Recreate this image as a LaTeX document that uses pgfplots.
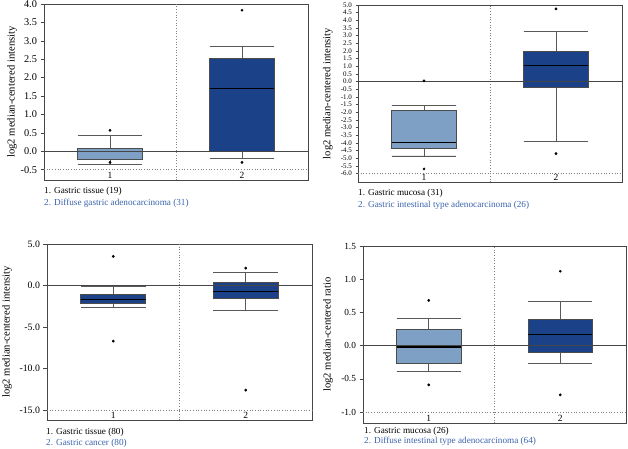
\documentclass[border=0pt]{standalone}
\usepackage{pgfplots}
\pgfplotsset{compat=1.18}
\usepgfplotslibrary{statistics}
\usepackage{fontspec}
\setmainfont{Liberation Serif}

\definecolor{lblue}{RGB}{127,160,197}
\definecolor{dblue}{RGB}{27,65,137}
\definecolor{txtblue}{RGB}{58,98,172}
\definecolor{frame}{RGB}{70,70,70}

\pgfplotsset{
  panel/.style={
    scale only axis,
    anchor=south west,
    xmin=0.5, xmax=2.5,
    xtick=\empty,
    axis line style={frame, line width=0.8pt},
    ytick pos=left,
    tick align=outside,
    major tick length=3.5pt,
    tick style={frame, line width=0.6pt},
    y tick label style={/pgf/number format/.cd, fixed, fixed zerofill, precision=1, assume math mode=true},
    boxplot/draw direction=y,
    boxplot/every median/.style={line width=1.1pt, black},
    boxplot/every whisker/.style={black!65, line width=0.8pt},
    boxplot/every box/.style={draw=black!70, line width=0.7pt},
    clip=false,
  },
  outl/.style={mark=*, mark size=1.2pt, mark options={black, fill=black, solid}},
  sep/.style={black!50, dotted, line width=0.7pt},
}

\begin{document}
\begin{tikzpicture}[x=1pt,y=1pt]
\useasboundingbox (0,0) rectangle (628,448);

% ---------- top left
\begin{axis}[panel, at={(44pt,268pt)}, width=264pt, height=176pt,
  ymin=-0.78, ymax=4.0, ytick={-0.5,0,...,4.0},
  tick label style={font=\fontsize{10.3}{11}\selectfont},
  ylabel={log2 median-centered intensity},
  ylabel style={font=\fontsize{10.6}{11}\selectfont, at={(axis description cs:-0.121,0.5)}, anchor=center}]
  \addplot[sep] coordinates {(1.5,-0.78) (1.5,4.0)};
  \addplot[sep] coordinates {(0.5,-0.5) (2.5,-0.5)};
  \addplot[boxplot prepared={median=0.0, upper quartile=0.08, lower quartile=-0.22,
    upper whisker=0.43, lower whisker=-0.35, draw position=1, box extend=0.49, whisker extend=0.49},
    fill=lblue, draw=black!70, outl] coordinates {(0,0.57) (0,-0.3)};
  \addplot[boxplot prepared={median=1.7, upper quartile=2.52, lower quartile=0.0,
    upper whisker=2.85, lower whisker=-0.2, draw position=2, box extend=0.49, whisker extend=0.49},
    fill=dblue, draw=black!70, outl] coordinates {(0,3.83) (0,-0.3)};
  \addplot[frame, line width=0.8pt] coordinates {(0.5,0) (2.5,0)};
  \node[anchor=south, font=\fontsize{9.5}{10}\selectfont, inner sep=1pt] at (axis cs:1,-0.78) {1};
  \node[anchor=south, font=\fontsize{9.5}{10}\selectfont, inner sep=1pt] at (axis cs:2,-0.78) {2};
\end{axis}
\node[anchor=west, inner sep=0pt, font=\fontsize{9.2}{10}\selectfont] at (44,257) {1. Gastric tissue (19)};
\node[anchor=west, inner sep=0pt, font=\fontsize{9.2}{10}\selectfont, text=txtblue] at (44,245) {2. Diffuse gastric adenocarcinoma (31)};

% ---------- top right
\begin{axis}[panel, at={(358pt,266pt)}, width=264pt, height=177pt,
  ymin=-6.55, ymax=5.0, ytick={-6,-5.5,...,5.01},
  tick label style={font=\fontsize{7}{7}\selectfont},
  major tick length=2.5pt,
  ylabel={log2 median-centered intensity},
  ylabel style={font=\fontsize{10.6}{11}\selectfont, at={(axis description cs:-0.114,0.5)}, anchor=center}]
  \addplot[sep] coordinates {(1.5,-6.55) (1.5,5.0)};
  \addplot[sep] coordinates {(0.5,-6) (2.5,-6)};
  \addplot[boxplot prepared={median=-4.0, upper quartile=-1.9, lower quartile=-4.35,
    upper whisker=-1.55, lower whisker=-4.85, draw position=1, box extend=0.49, whisker extend=0.49},
    fill=lblue, draw=black!70, outl] coordinates {(0,0.05) (0,-5.7)};
  \addplot[boxplot prepared={median=1.05, upper quartile=1.95, lower quartile=-0.35,
    upper whisker=3.3, lower whisker=-3.9, draw position=2, box extend=0.49, whisker extend=0.49},
    fill=dblue, draw=black!70, outl] coordinates {(0,4.75) (0,-4.7)};
  \addplot[frame, line width=0.8pt] coordinates {(0.5,0) (2.5,0)};
  \node[anchor=south, font=\fontsize{9.5}{10}\selectfont, inner sep=1pt] at (axis cs:1,-6.55) {1};
  \node[anchor=south, font=\fontsize{9.5}{10}\selectfont, inner sep=1pt] at (axis cs:2,-6.55) {2};
\end{axis}
\node[anchor=west, inner sep=0pt, font=\fontsize{9.2}{10}\selectfont] at (358,255) {1. Gastric mucosa (31)};
\node[anchor=west, inner sep=0pt, font=\fontsize{9.2}{10}\selectfont, text=txtblue] at (358,243) {2. Gastric intestinal type adenocarcinoma (26)};

% ---------- bottom left
\begin{axis}[panel, at={(47pt,28pt)}, width=265pt, height=176pt,
  ymin=-16.2, ymax=5.0, ytick={-15,-10,...,5},
  tick label style={font=\fontsize{9.8}{10}\selectfont},
  ylabel={log2 median-centered intensity},
  ylabel style={font=\fontsize{10.6}{11}\selectfont, at={(axis description cs:-0.151,0.5)}, anchor=center}]
  \addplot[sep] coordinates {(1.5,-16.2) (1.5,5.0)};
  \addplot[sep] coordinates {(0.5,-15) (2.5,-15)};
  \addplot[boxplot prepared={median=-1.7, upper quartile=-1.1, lower quartile=-2.2,
    upper whisker=-0.15, lower whisker=-2.6, draw position=1, box extend=0.49, whisker extend=0.49},
    fill=dblue, draw=black!70, outl] coordinates {(0,3.5) (0,-6.7)};
  \addplot[boxplot prepared={median=-0.7, upper quartile=0.4, lower quartile=-1.5,
    upper whisker=1.6, lower whisker=-3.0, draw position=2, box extend=0.49, whisker extend=0.49},
    fill=dblue, draw=black!70, outl] coordinates {(0,2.1) (0,-12.6)};
  \addplot[frame, line width=0.8pt] coordinates {(0.5,0) (2.5,0)};
  \node[anchor=south, font=\fontsize{9.5}{10}\selectfont, inner sep=1pt] at (axis cs:1,-16.2) {1};
  \node[anchor=south, font=\fontsize{9.5}{10}\selectfont, inner sep=1pt] at (axis cs:2,-16.2) {2};
\end{axis}
\node[anchor=west, inner sep=0pt, font=\fontsize{9.2}{10}\selectfont] at (46,16) {1. Gastric tissue (80)};
\node[anchor=west, inner sep=0pt, font=\fontsize{9.2}{10}\selectfont, text=txtblue] at (46,5) {2. Gastric cancer (80)};

% ---------- bottom right
\begin{axis}[panel, at={(363pt,25pt)}, width=263pt, height=177pt,
  ymin=-1.165, ymax=1.5, ytick={-1,-0.5,...,1.5},
  tick label style={font=\fontsize{9.3}{10}\selectfont},
  ylabel={log2 median-centered ratio},
  ylabel style={font=\fontsize{10.6}{11}\selectfont, at={(axis description cs:-0.133,0.5)}, anchor=center}]
  \addplot[sep] coordinates {(1.5,-1.165) (1.5,1.5)};
  \addplot[sep] coordinates {(0.5,-1) (2.5,-1)};
  \addplot[boxplot prepared={median=-0.02, upper quartile=0.25, lower quartile=-0.26,
    upper whisker=0.41, lower whisker=-0.39, draw position=1, box extend=0.49, whisker extend=0.49},
    fill=lblue, draw=black!70, outl] coordinates {(0,0.68) (0,-0.59)};
  \addplot[boxplot prepared={median=0.17, upper quartile=0.39, lower quartile=-0.1,
    upper whisker=0.66, lower whisker=-0.27, draw position=2, box extend=0.49, whisker extend=0.49},
    fill=dblue, draw=black!70, outl] coordinates {(0,1.12) (0,-0.74)};
  \addplot[frame, line width=0.8pt] coordinates {(0.5,0) (2.5,0)};
  \node[anchor=south, font=\fontsize{9.5}{10}\selectfont, inner sep=1pt] at (axis cs:1,-1.165) {1};
  \node[anchor=south, font=\fontsize{9.5}{10}\selectfont, inner sep=1pt] at (axis cs:2,-1.165) {2};
\end{axis}
\node[anchor=west, inner sep=0pt, font=\fontsize{9.2}{10}\selectfont] at (364,17) {1. Gastric mucosa (26)};
\node[anchor=west, inner sep=0pt, font=\fontsize{9.2}{10}\selectfont, text=txtblue] at (364,7) {2. Diffuse intestinal type adenocarcinoma (64)};
\end{tikzpicture}
\end{document}
